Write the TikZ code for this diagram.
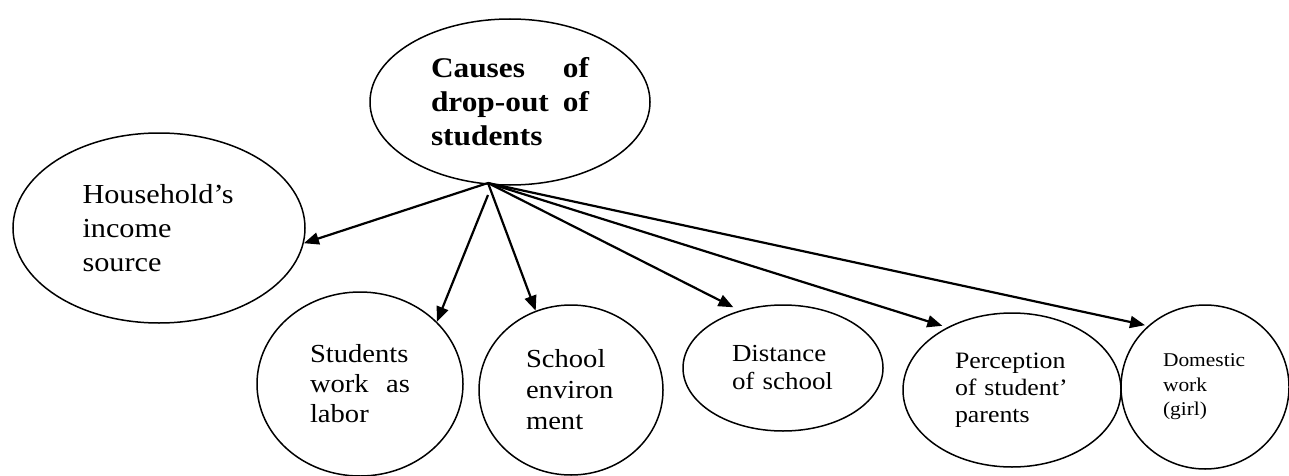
\documentclass[tikz,border=0pt]{standalone}
\usepackage{fontspec}
\setmainfont[FakeStretch=1.1]{Liberation Serif}
\usetikzlibrary{shapes.geometric,arrows.meta}
\begin{document}
\begin{tikzpicture}[x=1pt,y=-1pt,
  bub/.style={ellipse,draw,line width=1.5pt,inner sep=0pt,align=left},
  arr/.style={line width=2.2pt,-{Triangle[length=15pt,width=12pt]}}]
\useasboundingbox (0,0) rectangle (1289,476);
\node[bub,minimum width=280pt,minimum height=166pt,text width=158pt,
  font=\bfseries\fontsize{28.5}{34}\selectfont] (cause) at (510,102)
  {Causes\hfill of\\\mbox{drop-out}\hfill of\\students};
\node[bub,minimum width=292pt,minimum height=190pt,text width=153pt,
  font=\fontsize{27.5}{34}\selectfont] (house) at (159,228)
  {Household’s\\income\\source};
\node[bub,minimum width=206pt,minimum height=184pt,text width=100pt,
  font=\fontsize{26}{30}\selectfont] (stud) at (360,384)
  {Students\\work\hfill as\\labor};
\node[bub,minimum width=184pt,minimum height=170pt,text width=90pt,
  font=\fontsize{26}{31}\selectfont] (school) at (571,390)
  {School\\environ\\ment};
\node[bub,minimum width=200pt,minimum height=126pt,text width=102pt,
  font=\fontsize{24.5}{28}\selectfont] (dist) at (783,368)
  {Distance\\of~school};
\node[bub,minimum width=218pt,minimum height=154pt,text width=114pt,
  font=\fontsize{23.5}{27}\selectfont] (perc) at (1012,390)
  {Perception\\of~student’\\parents};
\node[bub,minimum width=168pt,minimum height=164pt,text width=84pt,
  font=\fontsize{19.5}{24.5}\selectfont] (dom) at (1205,387)
  {Domestic\\work\\(girl)};
\coordinate (hub) at (488,183);
\coordinate (hubb) at (488,195);
\draw[arr] (hub) -- (house.-6);
\draw[arr] (hubb) -- (stud.39);
\draw[arr] (hub) -- (school.114);
\draw[arr,shorten >=7pt] (hub) -- (dist.127);
\draw[arr,shorten >=5pt] (hub) -- (perc.136);
\draw[arr,shorten >=3pt] (hub) -- (dom.133);
\end{tikzpicture}
\end{document}
